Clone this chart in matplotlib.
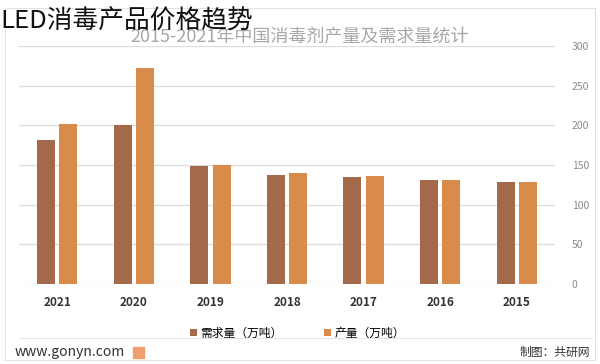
import matplotlib.pyplot as plt
import numpy as np
from matplotlib.patches import Rectangle

plt.rcParams["font.family"] = ["Noto Sans CJK SC", "DejaVu Sans"]

years = ["2021", "2020", "2019", "2018", "2017", "2016", "2015"]
demand = [181, 200, 149, 137, 134.5, 131, 128.5]   # 需求量（万吨）
output = [202, 272, 150, 139.5, 136, 131, 128.5]   # 产量（万吨）
y_ticks = [0, 50, 100, 150, 200, 250, 300]

DARK = "#a3694a"
LIGHT = "#d88b4a"

fig = plt.figure(figsize=(6, 3.64), dpi=100)
ax = fig.add_axes([19 / 600, 1 - 284 / 364, 536 / 600, 238 / 364])

x = np.arange(len(years))
w = 0.235
ax.bar(x - 0.145, demand, width=w, color=DARK, label="需求量（万吨）", zorder=3)
ax.bar(x + 0.145, output, width=w, color=LIGHT, label="产量（万吨）", zorder=3)

ax.set_xlim(-0.5, len(years) - 0.5)
ax.set_ylim(0, 300)
ax.set_yticks(y_ticks)
ax.yaxis.tick_right()
ax.tick_params(axis="y", length=0, pad=12, labelsize=7.5, labelcolor="#8a8a8a")
ax.set_xticks(x)
ax.set_xticklabels(years, fontsize=8.5, fontweight="bold", color="#333333")
ax.tick_params(axis="x", length=0, pad=9)
ax.grid(axis="y", color="#dddddd", linewidth=0.9, zorder=0)
for s in ax.spines.values():
    s.set_visible(False)

ax.legend(loc="upper center", bbox_to_anchor=(0.52, -0.135), ncol=2, frameon=False,
          fontsize=8.5, handlelength=0.6, handleheight=0.6, columnspacing=3.5,
          handletextpad=0.3)

# frame, separator and footer
fig.patches.append(Rectangle((5 / 600, 4 / 364), 590 / 600, 352 / 364,
                             transform=fig.transFigure, fill=False,
                             edgecolor="#e2e2e2", linewidth=0.8))
fig.add_artist(plt.Line2D([20 / 600, 592 / 600], [1 - 338 / 364] * 2,
                          color="#e6e6e6", linewidth=0.8))
fig.text(15 / 600, 1 - 352 / 364, "www.gonyn.com", fontsize=10, color="#333333",
         va="center", ha="left")
fig.patches.append(Rectangle((133 / 600, 1 - 358 / 364), 11 / 600, 11 / 364,
                             transform=fig.transFigure, color="#f0a070"))
fig.text(590 / 600, 1 - 352 / 364, "制图：共研网", fontsize=8.5, color="#333333",
         va="center", ha="right")

fig.text(300 / 600, 1 - 37 / 364, "2015-2021年中国消毒剂产量及需求量统计",
         fontsize=13, color="#a8a8a8", ha="center", va="center", fontweight="light")
fig.text(0, 1 - 22 / 364, "LED消毒产品价格趋势", fontsize=18.5, color="#111111",
         ha="left", va="center", fontweight="light")

fig.savefig("out.png", dpi=100)
